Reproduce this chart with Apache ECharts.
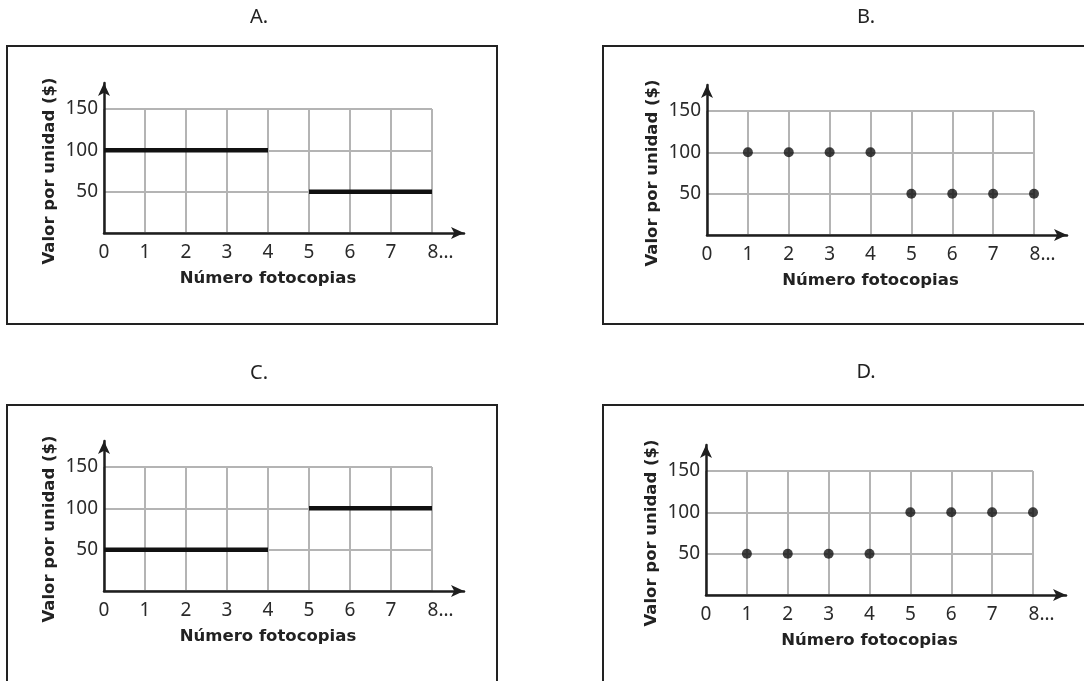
<!DOCTYPE html>
<html>
<head>
<meta charset="utf-8">
<script src="https://cdn.jsdelivr.net/npm/echarts@6/dist/echarts.min.js"></script>
<style>
html,body{margin:0;padding:0;background:#fff;}
#chart{width:1084px;height:681px;}
</style>
</head>
<body>
<div id="chart"></div>
<script>
// ---- data ----
const panelTitles = ['A.', 'B.', 'C.', 'D.'];
const xTicks = [0, 1, 2, 3, 4, 5, 6, 7, 8];
const xTickLabels = ['0', '1', '2', '3', '4', '5', '6', '7', '8…'];
const yTicks = [0, 50, 100, 150];
const yTickLabels = ['', '50', '100', '150'];
const xAxisTitle = 'Número fotocopias';
const yAxisTitle = 'Valor por unidad ($)';
// A: segments (step lines)
const segA1 = [[0, 100], [4, 100]];
const segA2 = [[5, 50], [8, 50]];
// C: segments
const segC1 = [[0, 50], [4, 50]];
const segC2 = [[5, 100], [8, 100]];
// B and D: points
const pointsX = [1, 2, 3, 4, 5, 6, 7, 8];
const pointsB = [100, 100, 100, 100, 50, 50, 50, 50];
const pointsD = [50, 50, 50, 50, 100, 100, 100, 100];

// ---- layout ----
const panels = [
  { L: 104, T: 109, W: 328, H: 124, arrowTop: 83, arrowRight: 464, box: [7, 46, 490, 278], title: [259, 17] },
  { L: 707, T: 111, W: 327, H: 124, arrowTop: 85, arrowRight: 1067, box: [603, 46, 490, 278], title: [866, 17] },
  { L: 104, T: 467, W: 328, H: 124, arrowTop: 441, arrowRight: 464, box: [7, 405, 490, 300], title: [259, 373] },
  { L: 706, T: 471, W: 327, H: 124, arrowTop: 445, arrowRight: 1066, box: [603, 405, 490, 300], title: [866, 372] }
];

const xMax = xTicks[xTicks.length - 1];
const yMax = yTicks[yTicks.length - 1];
const tickFont = 'Noto Sans';
const boldFont = 'DejaVu Sans';
const tickSize = 19;

const grids = [], xAxes = [], yAxes = [], series = [], graphics = [];

panels.forEach((p, i) => {
  // inner grid: gridlines + labels
  grids.push({ left: p.L, top: p.T, width: p.W, height: p.H, containLabel: false });
  // outer grid: arrowed axes
  const Wo = p.arrowRight - p.L;
  const Ho = p.T + p.H - p.arrowTop;
  grids.push({ left: p.L, top: p.arrowTop, width: Wo, height: Ho, containLabel: false });

  xAxes.push({
    gridIndex: 2 * i, type: 'value', min: 0, max: xMax, interval: 1,
    axisLine: { show: false }, axisTick: { show: false },
    splitLine: { show: true, lineStyle: { color: '#b4b4b4', width: 2 } },
    axisLabel: {
      margin: 10, fontSize: tickSize, fontFamily: tickFont, color: '#2a2a2a',
      formatter: v => {
        const k = xTicks.indexOf(v);
        const s = k >= 0 ? xTickLabels[k] : '';
        return v === xMax ? '{e|' + s + '}' : s;
      },
      rich: { e: { fontSize: tickSize, fontFamily: tickFont, color: '#2a2a2a', padding: [0, 0, 0, 17] } }
    },
    name: xAxisTitle, nameLocation: 'middle', nameGap: 37,
    nameTextStyle: { fontFamily: boldFont, fontWeight: 'bold', fontSize: 16.5, color: '#222' }
  });
  yAxes.push({
    gridIndex: 2 * i, type: 'value', min: 0, max: yMax, interval: 50,
    axisLine: { show: false }, axisTick: { show: false },
    splitLine: { show: true, lineStyle: { color: '#b4b4b4', width: 2 } },
    axisLabel: {
      margin: 6, fontSize: tickSize, fontFamily: tickFont, color: '#2a2a2a', padding: [7, 0, 0, 0],
      formatter: v => { const k = yTicks.indexOf(v); return k >= 0 ? yTickLabels[k] : ''; }
    },
    name: yAxisTitle, nameLocation: 'middle', nameGap: 46,
    nameTextStyle: { fontFamily: boldFont, fontWeight: 'bold', fontSize: 16.5, color: '#222' }
  });

  xAxes.push({
    gridIndex: 2 * i + 1, type: 'value', min: 0, max: xMax * Wo / p.W,
    axisLine: { show: true, symbol: ['none', 'arrow'], symbolSize: [9, 13], lineStyle: { color: '#1e1e1e', width: 2.5 } },
    axisTick: { show: false }, axisLabel: { show: false }, splitLine: { show: false }
  });
  yAxes.push({
    gridIndex: 2 * i + 1, type: 'value', min: 0, max: yMax * Ho / p.H,
    axisLine: { show: true, symbol: ['none', 'arrow'], symbolSize: [9, 13], lineStyle: { color: '#1e1e1e', width: 2.5 } },
    axisTick: { show: false }, axisLabel: { show: false }, splitLine: { show: false }
  });

  graphics.push({
    type: 'rect', shape: { x: p.box[0], y: p.box[1], width: p.box[2], height: p.box[3] },
    style: { fill: 'none', stroke: '#222', lineWidth: 2 }, z: -1
  });
  graphics.push({
    type: 'text', x: p.title[0], y: p.title[1],
    style: { text: panelTitles[i], fontFamily: tickFont, fontSize: 20, fill: '#222', align: 'center', verticalAlign: 'middle' }
  });
});

function segSeries(idx, data) {
  return {
    type: 'line', xAxisIndex: idx, yAxisIndex: idx, data: data, symbol: 'none',
    lineStyle: { color: '#111', width: 4.5 }, z: 5, silent: true, animation: false
  };
}
function dotSeries(idx, ys) {
  return {
    type: 'scatter', xAxisIndex: idx, yAxisIndex: idx,
    data: pointsX.map((x, k) => [x, ys[k]]), symbol: 'circle', symbolSize: 10,
    itemStyle: { color: '#111' }, z: 5, silent: true, animation: false
  };
}
series.push(segSeries(0, segA1), segSeries(0, segA2));
series.push(dotSeries(2, pointsB));
series.push(segSeries(4, segC1), segSeries(4, segC2));
series.push(dotSeries(6, pointsD));

const chart = echarts.init(document.getElementById('chart'), null, { renderer: 'canvas' });
chart.setOption({
  animation: false,
  backgroundColor: '#fff',
  grid: grids, xAxis: xAxes, yAxis: yAxes, series: series, graphic: graphics
});
</script>
</body>
</html>
